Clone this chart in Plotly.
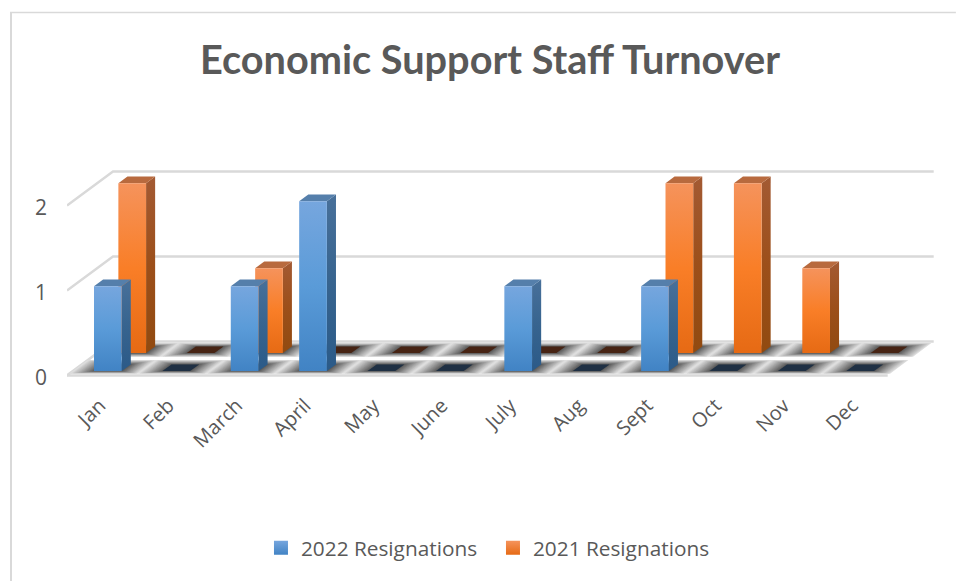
import plotly.graph_objects as go

# Monthly resignation counts
months = ["Jan", "Feb", "March", "April", "May", "June", "July", "Aug", "Sept", "Oct", "Nov", "Dec"]
resignations_2022 = [1, 0, 1, 2, 0, 0, 1, 0, 1, 0, 0, 0]
resignations_2021 = [2, 0, 1, 0, 0, 0, 0, 0, 2, 2, 1, 0]
y_ticks = [0, 1, 2]

WIDTH, HEIGHT = 956, 581
GREY = "#595959"
GRID = "#D9D9D9"

# Plot area in page pixels
LEFT, RIGHT, TOP, BOTTOM = 67.0, 939.1, 162.5, 388.6


def paper_x(px):
    return (px - LEFT) / (RIGHT - LEFT)


def paper_y(py):
    return (BOTTOM - py) / (BOTTOM - TOP)


# Oblique projection: depth 0 is the front of the floor, depth 1 the back wall
SKEW_X = 0.6725
SKEW_Y = 0.40


def project(u, depth, value):
    return u - 0.5 + depth * SKEW_X, value + depth * SKEW_Y


def polygon(corners):
    pts = [project(*c) for c in corners]
    pts.append(pts[0])
    return [p[0] for p in pts], [p[1] for p in pts]


def face(corners, stops):
    xs, ys = polygon(corners)
    top, bottom = max(ys), min(ys)
    scale = [[i / (len(stops) - 1), c] for i, c in enumerate(stops)]
    return go.Scatter(
        x=xs, y=ys, mode="lines", line=dict(width=0), fill="toself",
        fillgradient=dict(type="vertical", colorscale=scale, start=bottom, stop=top),
        hoverinfo="skip", showlegend=False,
    )


BAR_LEFT, BAR_RIGHT = 0.31, 0.715
series = [
    dict(name="2021 Resignations", values=resignations_2021, d0=0.656, d1=0.853,
         front=["#E66A14", "#F97E27", "#F5935C"], side=["#914A10", "#9C4F1A", "#A35A33"],
         top="#B86A3E", floor_mark="#472414"),
    dict(name="2022 Resignations", values=resignations_2022, d0=0.126, d1=0.324,
         front=["#4183C4", "#5A9BD8", "#76A6DE"], side=["#2B5A88", "#37648F", "#48709A"],
         top="#557FAB", floor_mark="#1F3044"),
]
FLOOR_ROWS = {0.656: (0.5, 1.0), 0.126: (0.0, 0.5)}

fig = go.Figure()

# Walls: gridlines along the back and the left edge
grid_x, grid_y = [], []
for v in y_ticks:
    x0, y0 = project(0, 0, v)
    x1, y1 = project(0, 1, v)
    x2, y2 = project(12, 1, v)
    grid_x += [x0, x1, x2, None]
    grid_y += [y0, y1, y2, None]
fig.add_trace(go.Scatter(x=grid_x, y=grid_y, mode="lines", line=dict(color=GRID, width=2.5),
                         hoverinfo="skip", showlegend=False))

# Floor: soft shadow around each footprint, built from nested cells
LEVELS = 14
ROW_GAP = 0.05
for level in range(LEVELS):
    t = level / (LEVELS - 1)
    g = int(222 - 137 * t)
    xs, ys = [], []
    for s in series:
        r0, r1 = FLOOR_ROWS[s["d0"]]
        for i in range(12):
            u0 = i + BAR_LEFT * t
            u1 = i + 1 + (BAR_RIGHT - 1) * t
            d0 = r0 + ROW_GAP + (s["d0"] - r0 - ROW_GAP) * t
            d1 = r1 - ROW_GAP + (s["d1"] - r1 + ROW_GAP) * t
            px, py = polygon([(u0, d0, 0), (u1, d0, 0), (u1, d1, 0), (u0, d1, 0)])
            xs += px + [None]
            ys += py + [None]
    fig.add_trace(go.Scatter(x=xs, y=ys, mode="lines", line=dict(width=0), fill="toself",
                             fillcolor=f"rgb({g},{g},{g})", hoverinfo="skip", showlegend=False))

# Front edge of the floor
fx0, fy0 = project(0, 0, 0)
fx1, _ = project(12, 0, 0)
fig.add_trace(go.Scatter(x=[fx0, fx1], y=[fy0, fy0], mode="lines", line=dict(color=GRID, width=2.5),
                         hoverinfo="skip", showlegend=False))

# Bars, back row first so the front row overlaps it
for s in series:
    d0, d1 = s["d0"], s["d1"]
    for i, v in enumerate(s["values"]):
        u0, u1 = i + BAR_LEFT, i + BAR_RIGHT
        if v == 0:
            xs, ys = polygon([(u0, d0, 0), (u1, d0, 0), (u1, d1, 0), (u0, d1, 0)])
            fig.add_trace(go.Scatter(x=xs, y=ys, mode="lines", line=dict(width=0), fill="toself",
                                     fillcolor=s["floor_mark"], hoverinfo="skip", showlegend=False))
            continue
        fig.add_trace(face([(u1, d0, 0), (u1, d1, 0), (u1, d1, v), (u1, d0, v)], s["side"]))
        xs, ys = polygon([(u0, d0, v), (u1, d0, v), (u1, d1, v), (u0, d1, v)])
        fig.add_trace(go.Scatter(x=xs, y=ys, mode="lines", line=dict(width=0), fill="toself",
                                 fillcolor=s["top"], hoverinfo="skip", showlegend=False))
        fig.add_trace(face([(u0, d0, 0), (u1, d0, 0), (u1, d0, v), (u0, d0, v)], s["front"]))

# Legend keys
for s in reversed(series):
    fig.add_trace(go.Scatter(
        x=[None], y=[None], mode="markers", name=s["name"],
        marker=dict(symbol="square", size=14, color=s["front"][2],
                    gradient=dict(type="vertical", color=s["front"][0])),
    ))

fig.update_layout(
    width=WIDTH, height=HEIGHT,
    margin=dict(l=LEFT, r=WIDTH - RIGHT, t=TOP, b=HEIGHT - BOTTOM, pad=0),
    paper_bgcolor="white", plot_bgcolor="white",
    title=dict(text="<b>Economic Support Staff Turnover</b>", x=490 / WIDTH, xanchor="center",
               y=1 - 60 / HEIGHT, yanchor="middle",
               font=dict(family="Lato", size=39.7, color=GREY)),
    xaxis=dict(range=[-0.5, 12.25], tickmode="array", tickvals=[i - 0.02 for i in range(12)], ticktext=months,
               tickangle=-45, showgrid=False, zeroline=False, showline=False, ticks="",
               tickfont=dict(family="Open Sans", size=20, color=GREY), automargin=False),
    yaxis=dict(range=[-0.16, 2.5], tickmode="array", tickvals=[v - 0.025 for v in y_ticks],
               ticktext=[str(v) for v in y_ticks],
               showgrid=False, zeroline=False, showline=False, ticks="", ticklabelstandoff=19,
               tickfont=dict(family="Open Sans", size=21, color=GREY), automargin=False),
    legend=dict(orientation="h", x=paper_x(261), xanchor="left", y=paper_y(548), yanchor="middle",
                entrywidth=187, entrywidthmode="pixels", traceorder="normal",
                font=dict(family="Open Sans", size=20.8, color=GREY)),
    shapes=[
        dict(type="line", xref="paper", yref="paper", x0=paper_x(10), x1=paper_x(WIDTH),
             y0=paper_y(12), y1=paper_y(12), line=dict(color=GRID, width=1.5)),
        dict(type="line", xref="paper", yref="paper", x0=paper_x(11), x1=paper_x(11),
             y0=paper_y(HEIGHT), y1=paper_y(12), line=dict(color=GRID, width=2)),
    ],
)

fig.write_html("out.html")
